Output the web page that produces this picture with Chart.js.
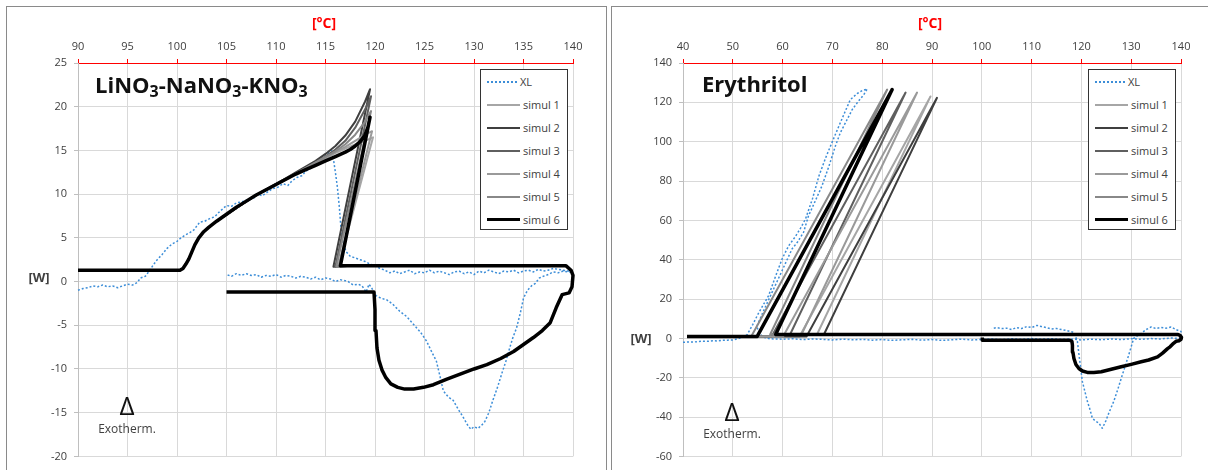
<!DOCTYPE html>
<html>
<head>
<meta charset="utf-8">
<script src="https://cdn.jsdelivr.net/npm/chart.js@4.4.1/dist/chart.umd.min.js"></script>
<style>
  body { margin: 0; width: 1208px; height: 470px; position: relative; overflow: hidden; background: #fff; font-family: "Open Sans", sans-serif; }
  .panel { position: absolute; border: 1px solid #8a8a8a; box-sizing: border-box; }
  .wrap { position: absolute; top: 0; height: 470px; }
  .lbl { position: absolute; white-space: nowrap; line-height: 1; }
  .unitx { color: #ff0000; font-weight: bold; font-size: 14px; transform: translate(-50%, -50%); }
  .unity { color: #404040; font-weight: bold; font-size: 13px; transform: translate(-50%, -50%); }
  .title { font-weight: bold; font-size: 22px; line-height: 22px; color: #111; }
  .title span { font-size: 16px; position: relative; top: 4px; }
  .exo { font-size: 12px; color: #404040; transform: translate(-50%, -50%); }
  .delta { font-size: 26px; color: #111; transform: translate(-50%, -50%); }
  .legend { position: absolute; border: 1px solid #333; background: #fff; box-sizing: border-box; width: 88px; height: 161px; }
  .row { height: 23px; display: flex; align-items: center; font-size: 11px; color: #404040; }
  .sample { width: 33px; margin-left: 6px; margin-right: 3px; }
</style>
</head>
<body>
<div class="panel" style="left:6px;top:6px;width:601px;height:480px"></div>
<div class="panel" style="left:611px;top:6px;width:620px;height:480px"></div>

<div class="wrap" style="left:0;width:606px"><canvas id="leftChart" width="606" height="470"></canvas></div>
<div class="wrap" style="left:606px;width:602px"><canvas id="rightChart" width="602" height="470"></canvas></div>

<div class="lbl unitx" style="left:324px;top:23px">[°C]</div>
<div class="lbl unitx" style="left:930px;top:23px">[°C]</div>
<div class="lbl unity" style="left:39px;top:277px">[W]</div>
<div class="lbl unity" style="left:641px;top:338px">[W]</div>
<div class="lbl title" style="left:95px;top:73px">LiNO<span>3</span>-NaNO<span>3</span>-KNO<span>3</span></div>
<div class="lbl title" style="left:702px;top:72px">Erythritol</div>
<div class="lbl delta" style="left:127px;top:405px">Δ</div>
<div class="lbl exo" style="left:127px;top:429px">Exotherm.</div>
<div class="lbl delta" style="left:732px;top:411px">Δ</div>
<div class="lbl exo" style="left:732px;top:434px">Exotherm.</div>

<div class="legend" id="leftLegend" style="left:480px;top:69px"></div>
<div class="legend" id="rightLegend" style="left:1088px;top:69px"></div>

<script>
const SERIES_NAMES = ['XL', 'simul 1', 'simul 2', 'simul 3', 'simul 4', 'simul 5', 'simul 6'];
const SERIES_COLORS = ['#3d8ed8', '#a6a6a6', '#3f3f3f', '#5f5f5f', '#9a9a9a', '#888888', '#000000'];
const SERIES_WIDTHS = [1.5, 2, 2, 2, 2, 2, 3.5];

// --- LiNO3-NaNO3-KNO3 : temperature [°C], power [W] ---
const leftXTicks = [90, 140, 5];
const leftYTicks = [-20, 25, 5];

const leftXL = [
  [90,-1.0],[90.5,-0.8],[91,-0.7],[91.5,-0.5],[92,-0.6],[92.5,-0.4],[93,-0.6],[93.5,-0.5],[94,-0.7],[94.5,-0.5],
  [95,-0.3],[95.5,-0.4],[96,-0.1],[96.3,0.4],[96.8,0.6],[97.2,1.2],[97.6,1.9],[98,2.5],[98.5,3.1],[99,3.8],
  [99.5,4.3],[100,4.6],[100.3,4.9],[100.8,5.3],[101.3,5.6],[101.7,5.9],[102.3,6.8],[102.8,6.9],[103.3,7.2],[103.8,7.4],
  [104.3,8.0],[105,8.7],[105.5,8.6],[106,9.0],[106.5,9.1],[107,9.3],[107.7,9.5],[108.2,10.0],[108.6,9.8],[109.1,10.2],
  [109.6,10.6],[110.2,10.8],[110.7,11.2],[111.2,11.0],[111.6,11.5],[112.1,11.9],[112.6,12.1],[113,12.6],[113.4,12.9],[114,13.3],
  [114.4,13.6],[114.8,14.0],[115.2,14.6],[115.6,15.0],[115.8,14.0],[116,12.5],[116.2,10.8],[116.4,8.5],[116.5,7.0],[116.6,5.5],
  [116.8,4.2],[117.1,3.4],[117.5,2.9],[118,2.7],[118.5,2.5],[119,2.3],[119.5,2.0],[120,1.8],[120.5,1.5],[121,1.3],
  [121.5,1.0],[122,1.2],[122.5,0.9],[123,1.1],[123.5,1.3],[124,0.9],[124.5,1.1],[125,1.0],[125.5,1.3],[126,1.0],
  [126.5,1.2],[127,1.0],[127.5,0.8],[128,1.1],[128.5,1.2],[129,0.9],[129.5,1.1],[130,0.8],[130.5,1.2],[131,1.0],
  [131.5,1.3],[132,1.1],[132.5,0.9],[133,1.2],[133.5,1.1],[134,1.3],[134.5,1.0],[135,1.2],[135.5,1.3],[136,1.1],
  [136.5,1.4],[137,1.2],[137.5,1.3],[138,1.5],[138.5,1.4],[139,1.3],[139.5,1.2],[140,1.1],
  [139.5,1.1],[139,1.2],[138.5,1.0],[138,1.1],[137.5,0.8],[137,0.6],[136.6,0.4],[136.2,-0.2],[135.8,-0.5],
  [135.4,-1.0],[135,-1.9],[134.7,-3.5],[134.3,-5.3],[133.9,-6.5],[133.5,-8.0],[133.2,-9.2],[132.9,-10.2],[132.4,-12.0],[131.9,-13.6],
  [131.5,-15.0],[131.1,-16.0],[130.8,-16.4],[130.4,-16.8],[130,-16.6],[129.7,-16.9],[129.4,-16.5],[129.1,-15.9],[128.9,-15.5],[128.4,-14.6],
  [127.9,-13.6],[127.4,-13.2],[126.9,-12.5],[126.6,-11.0],[126.2,-9.1],[125.8,-8.2],[125.2,-6.8],[124.6,-5.8],[123.9,-4.9],[123.2,-4.0],
  [122.5,-3.4],[121.8,-2.6],[121.2,-2.1],[120.6,-1.9],[120.1,-1.6],[119.7,-0.8],[119.4,-0.3],[119.1,-1.2],[118.7,-0.5],[118.3,-0.3],
  [117.8,-0.4],[117.3,0.0],[117,0.1],[116.5,0.2],[116,0.0],[115.5,0.3],[115,0.4],[114.5,0.2],[114,0.5],[113.5,0.3],
  [113,0.5],[112.5,0.6],[112,0.4],[111.5,0.6],[111,0.7],[110.5,0.5],[110,0.8],[109.5,0.6],[109,0.7],[108.5,0.5],
  [108,0.8],[107.5,0.7],[107,0.9],[106.5,0.7],[106,0.9],[105.5,0.6],[105,0.8]
];
const leftSimul1 = [
  [104,6.9],[108,9.9],[111,11.7],[113,12.9],[115,14.1],[116,14.7],[117,15.2],[118,15.7],[119,16.1],[119.8,16.5],[116.3,1.7],[117.5,1.8]
];
const leftSimul2 = [
  [104,6.9],[108,9.9],[111,11.8],[112,12.5],[114,13.8],[115,14.6],[116,15.5],[117,16.7],[118,18.3],[119,20.6],[119.5,22.0],[115.8,1.7],[117,1.8]
];
const leftSimul3 = [
  [104,6.9],[108,9.9],[111,11.8],[113,13.0],[115,14.3],[116,15.1],[117,16.1],[118,17.6],[119,19.7],[119.6,21.2],[116.0,1.7],[117,1.8]
];
const leftSimul4 = [
  [104,6.9],[108,9.9],[111,11.7],[114,13.6],[116,14.8],[117,15.4],[118,16.1],[119,16.8],[119.7,17.2],[116.3,1.7],[117.5,1.8]
];
const leftSimul5 = [
  [104,6.9],[108,9.9],[111,11.7],[114,13.6],[116,14.9],[117,15.7],[118,16.8],[119,18.3],[119.6,19.5],[116.1,1.7],[117.5,1.8]
];
const leftSimul6 = [
  [90,1.3],[100.3,1.3],[100.6,1.5],[100.9,2.0],[101.2,2.6],[101.5,3.4],[101.8,4.2],[102.2,5.0],[102.7,5.7],[103.2,6.2],
  [104,6.9],[105,7.7],[106,8.5],[107,9.2],[108,9.9],[109,10.5],[110,11.1],[111,11.7],[112,12.3],[113,12.8],
  [114,13.3],[115,13.8],[116,14.3],[117,14.8],[117.5,15.1],[118,15.5],[118.5,16.0],[119,16.8],[119.3,17.7],[119.5,18.8],
  [116.5,1.8],[139.3,1.8],[139.8,1.3],[140,0.7],[139.9,-0.6],[139.6,-1.3],[138.9,-1.5],[138.3,-3.0],[137.7,-4.7],[136.9,-5.6],
  [136,-6.4],[135,-7.2],[134,-8.0],[132.7,-8.8],[131.3,-9.5],[130,-10.0],[128.6,-10.6],[127.2,-11.2],[125.9,-11.8],[124.9,-12.1],
  [123.9,-12.3],[123,-12.3],[122.3,-12.1],[121.6,-11.7],[121.1,-11.0],[120.7,-10.1],[120.4,-9.0],[120.2,-7.6],[120.1,-5.6],[120,-3.2],
  [119.9,-1.2],[105,-1.2]
];

// --- Erythritol ---
const rightXTicks = [40, 140, 10];
const rightYTicks = [-60, 140, 20];

const rightXL = [
  [40,-2.0],[41,-1.8],[42,-1.9],[43,-1.6],[44,-1.4],[45,-1.5],[46,-1.2],[47,-1.3],[48,-1.0],[49,-0.9],
  [50,-0.8],[51,-0.2],[52,0.6],[52.9,1.9],[54,7],[55,12],[56,16.5],[57.2,21.8],[58.5,31],[59.9,40.4],
  [61.2,47],[62.6,51.9],[63.6,56],[64.6,60.7],[66,71],[67.3,82.6],[68.6,91.5],[69.9,99.5],[71.3,107.9],[72.5,115],
  [73.6,121.4],[75,124.5],[76,126],[77,126.8],[76.3,123.9],[75.2,120.5],[74,116.4],[72.8,110.5],[71.6,104.6],[70.6,97.8],
  [69.3,87.5],[67.9,77.5],[66.5,69.5],[65.2,62.3],[64.2,53.9],[63,49],[61.9,45.5],[60,35],[57.9,23.5],[56,13],
  [54.8,6],[55.5,2],[56.5,0.3],[57.5,-0.2],[60,-0.4],[62,-0.2],[64,-0.6],[66,-0.3],[68,-0.5],[70,-0.8],
  [72,-0.4],[74,-0.7],[76,-0.5],[78,-0.9],[80,-0.6],[82,-1.0],[84,-0.7],[86,-0.5],[88,-0.9],[90,-0.6],
  [92,-1.0],[94,-0.7],[96,-0.4],[98,-0.8],[100,-0.5],[102,-0.3],[104,-0.6],[106,-0.2],[108,-0.5],[110,-0.1],
  [112,-0.4],[114,-0.2],[116,-0.5],[118,-0.3],[120,-0.8],[122,-0.4],[124,-0.7],[126,-0.3],[128,-0.6],[130,-0.2],
  [132,-0.5],[134,-0.1],[136,-0.3],[138,0.2],[140,0.0],
  [140,3.5],[139,4.5],[138,5.8],[137,5.2],[136,5.6],[135,5.0],[134,5.8],[133,4.5],[132,2.5],[131,1.0],
  [130.5,0],[129.5,-8.5],[128.2,-18.7],[127.3,-26],[126.5,-32],[125.5,-38],[124.9,-42],[124.2,-45.7],[123.5,-43],[122.8,-42],
  [122.2,-40.6],[121.7,-36],[121.2,-32],[120.7,-27],[120.2,-22],[119.8,-14],[119.5,-8],[119.2,-1.6],[118.5,3],[117,4],
  [116,4.5],[115,5],[114,4.8],[113,5.5],[112,6],[111.1,6.6],[110,5.5],[109,6],[108,5],[107,5.5],
  [106,4.5],[105,5.2],[104,5],[103,5.5],[102,5]
];
const rightSimul1 = [[40.8,1],[63.4,1],[89.7,123],[66.9,2],[70,2]];
const rightSimul2 = [[40.8,1],[64.8,1],[91,122.3],[68.3,2],[70,2]];
const rightSimul3 = [[40.8,1],[57.8,1],[84.7,125],[61.5,2],[70,2]];
const rightSimul4 = [[40.8,1],[60.1,1],[87,125],[63.8,2],[70,2]];
const rightSimul5 = [[40.8,1],[53.7,1],[81,126.5],[57.5,2],[70,2]];
const rightSimul6 = [
  [40.8,1],[54.9,1],[82,126.5],[58.6,2],[139.3,2],[139.8,1.5],[140.1,0.5],[140,-0.5],[139.6,-1.2],[139,-1.5],
  [138.5,-2.5],[137.8,-4.3],[137.3,-5.2],[136.3,-7.5],[135.3,-9.4],[133.5,-11],[132,-11.9],[130,-13.2],[128,-14.4],[126,-15.7],
  [124,-17],[122.5,-17.4],[121.2,-17.3],[120.2,-16.6],[119.5,-15.3],[118.9,-13.3],[118.5,-10.2],[118.3,-7],[118.2,-3.5],[118.1,-1.6],
  [117.7,-1],[100.1,-1],[100.1,0.5]
];

const TICK_FONT = { family: 'Open Sans', size: 11 };

function buildLegend(el) {
  SERIES_NAMES.forEach((name, i) => {
    const row = document.createElement('div');
    row.className = 'row';
    const line = document.createElement('div');
    line.className = 'sample';
    const w = i === 0 ? 2 : (i === 6 ? 3.5 : 2.5);
    line.style.borderTop = w + 'px ' + (i === 0 ? 'dotted ' : 'solid ') + SERIES_COLORS[i];
    if (i === 0) line.style.width = '30px';
    const txt = document.createElement('span');
    txt.textContent = name;
    row.appendChild(line);
    row.appendChild(txt);
    el.appendChild(row);
  });
}

function makeChart(id, series, xt, yt, yWidth, padRight) {
  return new Chart(document.getElementById(id), {
    type: 'scatter',
    data: {
      datasets: series.map((pts, i) => ({
        label: SERIES_NAMES[i],
        data: pts.map(([x, y]) => ({ x, y })),
        showLine: true,
        borderColor: SERIES_COLORS[i],
        backgroundColor: SERIES_COLORS[i],
        borderWidth: SERIES_WIDTHS[i],
        borderDash: i === 0 ? [2, 2] : [],
        borderJoinStyle: 'round',
        pointRadius: 0,
        fill: false,
        clip: 4,
        order: series.length - i
      }))
    },
    options: {
      responsive: false,
      animation: false,
      events: [],
      layout: { padding: { left: 0, top: 0, right: padRight, bottom: 12 } },
      plugins: { legend: { display: false }, tooltip: { enabled: false } },
      scales: {
        x: {
          type: 'linear',
          position: 'top',
          min: xt[0], max: xt[1],
          ticks: { stepSize: xt[2], color: '#404040', font: TICK_FONT, padding: 6, maxRotation: 0 },
          grid: { color: '#d9d9d9', tickColor: '#ff0000', tickLength: 4 },
          border: { color: '#ff0000', width: 1 },
          afterFit: (s) => { s.height = 63; }
        },
        y: {
          type: 'linear',
          min: yt[0], max: yt[1],
          ticks: { stepSize: yt[2], color: '#404040', font: TICK_FONT, padding: 7 },
          grid: { color: '#d9d9d9', tickColor: '#bfbfbf', tickLength: 4 },
          border: { color: '#bfbfbf', width: 1 },
          afterFit: (s) => { s.width = yWidth; }
        }
      }
    }
  });
}

buildLegend(document.getElementById('leftLegend'));
buildLegend(document.getElementById('rightLegend'));

makeChart('leftChart',
  [leftXL, leftSimul1, leftSimul2, leftSimul3, leftSimul4, leftSimul5, leftSimul6],
  leftXTicks, leftYTicks, 78, 33);
makeChart('rightChart',
  [rightXL, rightSimul1, rightSimul2, rightSimul3, rightSimul4, rightSimul5, rightSimul6],
  rightXTicks, rightYTicks, 77, 27);
</script>
</body>
</html>
